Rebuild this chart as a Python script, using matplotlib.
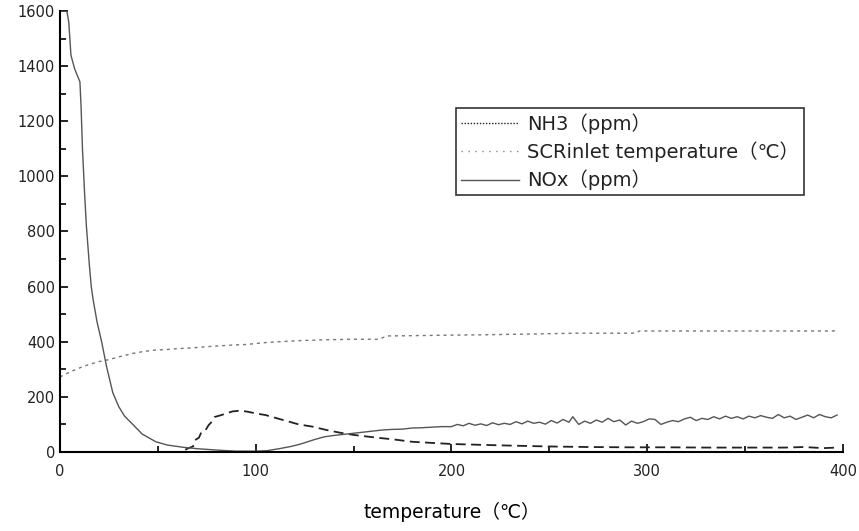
import matplotlib.pyplot as plt
from matplotlib.lines import Line2D
from matplotlib.ticker import MultipleLocator

# NOx (ppm)
nox_x = [0, 3.5, 4.5, 5.1, 5.6, 7.5, 10.2, 10.8, 11.5, 12.5, 13.5, 15, 16, 17, 19, 21.3,
         23.8, 27, 30, 33, 37.5, 42, 49, 55, 63, 70, 80, 90, 100, 106, 112, 118, 123,
         130, 135, 140, 145, 150, 155, 160, 165, 170, 175, 180, 185, 190, 195,
         200, 203, 206, 209, 212, 215, 218, 221, 224, 227, 230, 233, 236, 239, 242,
         245, 248, 251, 254, 257, 260, 262, 265, 268, 271, 274, 277, 280, 283, 286,
         289, 292, 295, 298, 301, 304, 307, 310, 313, 316, 319, 322, 325, 328, 331,
         334, 337, 340, 343, 346, 349, 352, 355, 358, 361, 364, 367, 370, 373, 376,
         379, 382, 385, 388, 391, 394, 397]
nox_y = [1600, 1600, 1560, 1495, 1440, 1390, 1343, 1250, 1100, 950, 820, 680, 600, 550,
         470, 400, 310, 215, 165, 130, 98, 65, 37, 25, 17, 12, 7, 3, 3, 5, 12, 20, 29,
         45, 55, 60, 64, 68, 72, 76, 80, 82, 83, 87, 88, 90, 92,
         92, 100, 95, 104, 97, 102, 96, 106, 99, 104, 100, 110, 102, 112, 104,
         108, 101, 114, 105, 118, 108, 128, 100, 112, 104, 116, 108, 122, 110, 116,
         98, 112, 104, 110, 120, 118, 100, 108, 114, 110, 120, 126, 114, 122, 118,
         128, 120, 130, 122, 128, 120, 130, 124, 132, 126, 122, 136, 124, 130, 118,
         126, 134, 124, 136, 128, 124, 134]

# NH3 (ppm)
nh3_x = [64, 66, 68, 69, 71, 72, 74, 76, 77, 79, 82, 85, 88, 92, 96, 100, 105, 110, 116,
         122, 129, 136, 143, 150, 157, 163, 170, 180, 190, 200, 215, 231, 250, 270, 290,
         310, 330, 350, 370, 380, 390, 397]
nh3_y = [8, 15, 20, 43, 52, 68, 75, 98, 105, 127, 133, 140, 147, 150, 146, 140, 134, 124,
         112, 100, 92, 80, 70, 62, 56, 51, 46, 37, 33, 29, 26, 23, 20, 18, 17, 17, 16,
         16, 16, 18, 14, 16]

# SCR inlet temperature
scr_x = [0, 5, 10, 15, 20, 25, 30, 37.5, 43, 49, 55, 60, 66, 75, 88, 95, 105, 112, 122,
         135, 150, 163, 167, 180, 200, 215, 240, 264, 280, 294, 296, 320, 350, 380, 395, 397]
scr_y = [272, 290, 305, 318, 328, 335, 345, 358, 365, 370, 372, 375, 377, 382, 388, 390,
         397, 400, 404, 407, 409, 409, 421, 422, 424, 425, 428, 431, 431, 431, 439, 439,
         439, 439, 439, 443]

plt.rcParams['font.family'] = ['DejaVu Sans', 'Noto Sans CJK SC']
plt.rcParams['text.color'] = '#222222'

fig = plt.figure(figsize=(8.59, 5.31), dpi=100)
ax = fig.add_axes([0.0698, 0.1488, 0.9115, 0.8305])

ax.plot(scr_x, scr_y, color='#777777', lw=1.0, dashes=(2.2, 2.8))
ax.plot(nh3_x, nh3_y, color='#222222', lw=1.3, dashes=(5.5, 3))
ax.plot(nox_x, nox_y, color='#555555', lw=1.0)

ax.set_xlim(0, 400)
ax.set_ylim(0, 1600)
ax.xaxis.set_major_locator(MultipleLocator(100))
ax.xaxis.set_minor_locator(MultipleLocator(50))
ax.yaxis.set_major_locator(MultipleLocator(200))
ax.yaxis.set_minor_locator(MultipleLocator(100))
ax.tick_params(which='both', direction='in', width=1.2, labelsize=10.5,
               labelcolor='#222222')
ax.tick_params(which='major', length=6)
ax.tick_params(which='minor', length=4)
ax.tick_params(axis='x', pad=9)
ax.spines['top'].set_visible(False)
ax.spines['right'].set_visible(False)
ax.spines['left'].set_linewidth(1.5)
ax.spines['bottom'].set_linewidth(1.5)

ax.set_xlabel('temperature（℃）', fontsize=13.5, labelpad=16)

handles = [Line2D([], [], color='#222222', lw=1.0, dashes=(1, 1.2)),
           Line2D([], [], color='#888888', lw=1.0, dashes=(1, 4)),
           Line2D([], [], color='#555555', lw=1.0)]
labels = ['NH3（ppm）', 'SCRinlet temperature（℃）', 'NOx（ppm）']
leg = ax.legend(handles, labels, loc='upper left', bbox_to_anchor=(0.506, 0.78),
                fontsize=14, frameon=True, fancybox=False, edgecolor='black',
                handlelength=3.0, handletextpad=0.4, labelspacing=0.4,
                borderpad=0.25, borderaxespad=0)
leg.get_frame().set_linewidth(1.2)

plt.savefig('out.png', dpi=100)
